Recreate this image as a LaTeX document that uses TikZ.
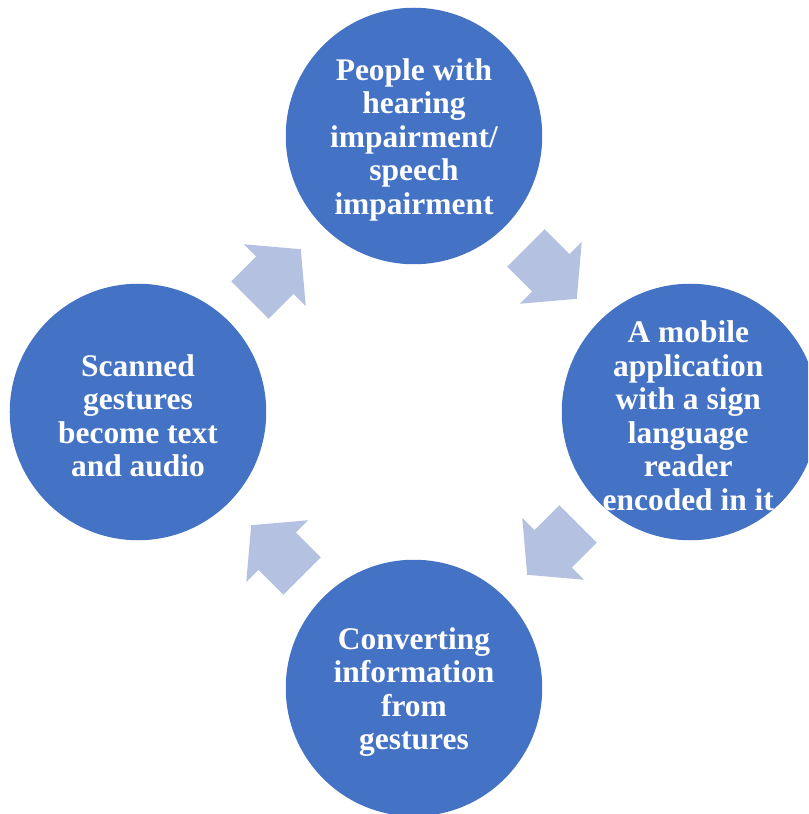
\documentclass[tikz,border=0pt]{standalone}
\usepackage{fontspec}
\setmainfont{Liberation Serif}
\usepackage{tikz}
\usetikzlibrary{positioning,calc,shapes.arrows}
\definecolor{stageblue}{RGB}{68,114,196}
\definecolor{flowblue}{RGB}{180,193,225}

\begin{document}
\begin{tikzpicture}[ auto,
 stage/.style = {circle, fill = stageblue, minimum size = 5.13cm, inner sep = 0pt},
 stagetext/.style = {align = center, text = white, inner sep = 0pt, yshift = -2.2pt, font = \bfseries\fontsize{17.9pt}{19.05pt}\selectfont},
 flow/.style = {single arrow, fill = flowblue, inner xsep = 0pt, inner ysep = 0.52cm, single arrow head extend = 0.35cm, single arrow tip angle = 100, minimum height = 1.44cm}]
 \useasboundingbox (-8.28,-8.04) rectangle (7.88,8.24);
 \clip (-8.28,-8.04) rectangle (7.88,8.24);
 \node[stage, yshift = 5.52cm, label = {[stagetext]center:People with\\hearing\\impairment/\\speech\\impairment}] (people) {};
 \node[stage, xshift = 5.52cm, label = {[stagetext, xshift = -1pt]center:A mobile\\application\\with a sign\\language\\reader\\encoded in it}] (app) {};
 \node[stage, yshift = -5.52cm, label = {[stagetext]center:Converting\\information\\from\\gestures}] (convert) {};
 \node[stage, xshift = -5.52cm, label = {[stagetext]center:Scanned\\gestures\\become text\\and audio}] (scan) {};
 % arrows sit between the circles, pulled back a little
 \node[flow, rotate = -45] (f1) at ($(people)!0.5!(app) + (135:0.24)$) {};
 \node[flow, rotate = -135] (f2) at ($(app)!0.5!(convert) + (45:0.24)$) {};
 \node[flow, rotate = 135] (f3) at ($(convert)!0.5!(scan) + (-45:0.24)$) {};
 \node[flow, rotate = 45] (f4) at ($(scan)!0.5!(people) + (225:0.24)$) {};
 
\end{tikzpicture}
\end{document}
